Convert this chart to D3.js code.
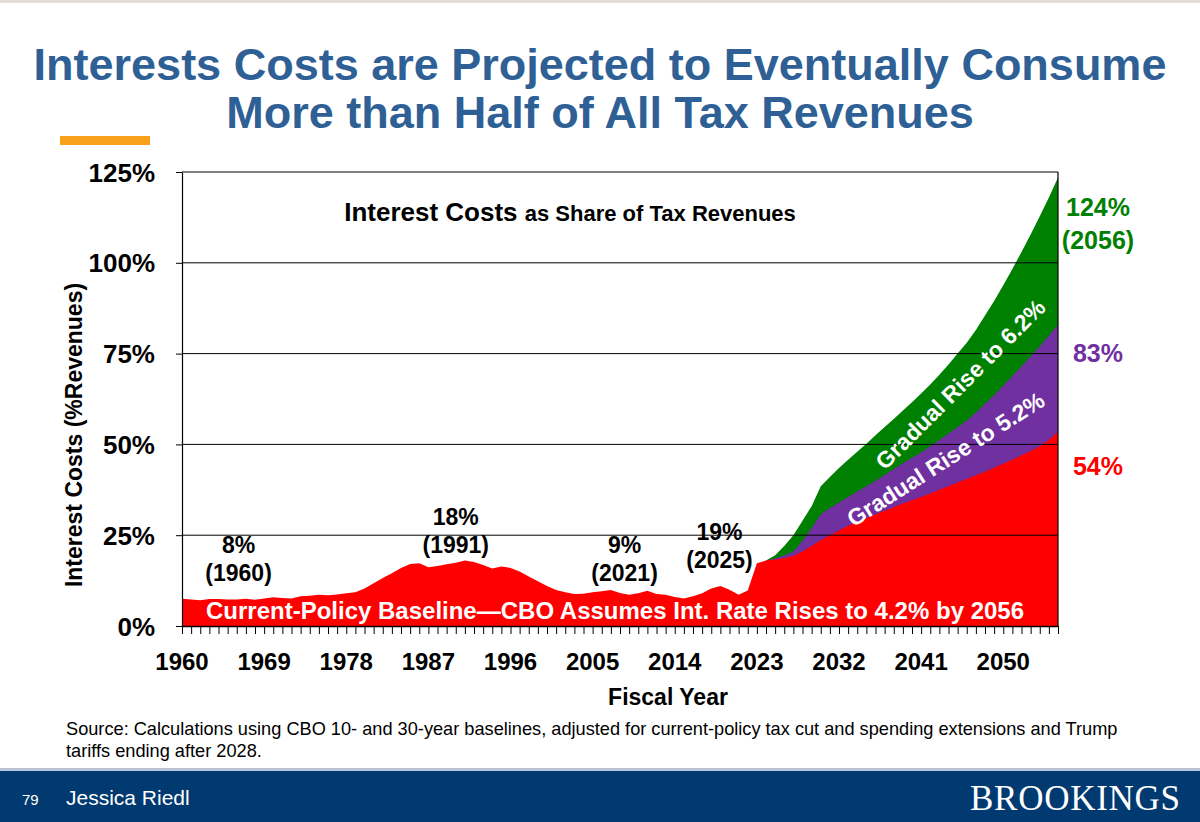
<!DOCTYPE html>
<html lang="en">
<head>
<meta charset="UTF-8">
<title>Interest Costs as Share of Tax Revenues</title>
<script src="https://d3js.org/d3.v7.min.js"></script>
<style>
  body { margin: 0; font-family: Arial, "Liberation Sans", sans-serif; background: #fff; }
</style>
</head>
<body>
<svg width="1200" height="822" font-family="Arial, 'Liberation Sans', sans-serif"></svg>
<script>
// current-policy baseline, 1960..2056
const baseline = [
  7.5, 7.3, 7.1, 7.4, 7.4, 7.3, 7.3, 7.5, 7.2, 7.6,
  7.9, 7.7, 7.6, 8.2, 8.3, 8.6, 8.5, 8.7, 9.0, 9.3,
  10.3, 11.8, 13.2, 14.5, 16.0, 17.1, 17.3, 16.2, 16.5, 17.0,
  17.4, 18.0, 17.6, 16.8, 15.8, 16.4, 16.0, 15.0, 13.6, 12.3,
  11.0, 9.9, 9.3, 8.8, 8.9, 9.3, 9.6, 9.9, 9.1, 8.6,
  9.0, 9.7, 8.8, 8.6, 8.0, 7.6, 8.2, 9.0, 10.3, 11.0,
  10.0, 8.6, 9.8, 17.3,
  18.0, 18.3, 18.7, 19.3, 20.5, 22.0, 23.6, 25.0, 26.3, 27.6,
  28.7, 29.7, 30.7, 31.7, 32.7, 33.7, 34.6, 35.5, 36.5, 37.5,
  38.5, 39.5, 40.5, 41.5, 42.5, 43.6, 44.7, 45.8, 47.0, 48.2,
  49.5, 51.2, 53.5
];
// totals for higher-rate scenarios, 2024..2056
const rise52 = [
  18.0, 18.6, 19.4, 20.5, 23.5, 27.0, 30.8, 32.5, 34.0, 35.5,
  37.0, 38.5, 40.0, 41.6, 43.2, 44.8, 46.3, 47.8, 49.5, 51.2,
  53.0, 54.8, 56.6, 58.8, 61.2, 63.6, 66.2, 68.8, 71.5, 74.2,
  77.0, 80.0, 83.0
];
const rise62 = [
  18.0, 19.5, 22.0, 25.0, 29.0, 33.0, 38.5, 41.0, 43.5, 45.8,
  48.0, 50.2, 52.5, 54.8, 57.0, 59.3, 61.6, 64.0, 66.5, 69.2,
  72.0, 75.0, 78.0, 81.5, 85.5, 89.5, 93.8, 98.3, 103.0, 107.8,
  112.8, 118.0, 123.5
];
const yTicks = [0, 25, 50, 75, 100, 125];
const xLabelYears = [1960, 1969, 1978, 1987, 1996, 2005, 2014, 2023, 2032, 2041, 2050];
const callouts = [
  { v: "8%", yr: "(1960)", x: 1966.2, y: 12.5 },
  { v: "18%", yr: "(1991)", x: 1990, y: 20 },
  { v: "9%", yr: "(2021)", x: 2008.5, y: 12.5 },
  { v: "19%", yr: "(2025)", x: 2018.9, y: 16 }
];

const svg = d3.select("svg");
const x = d3.scaleLinear().domain([1960, 2056]).range([182, 1058]);
const y = d3.scaleLinear().domain([0, 125]).range([626, 172]);

// page decoration
svg.append("rect").attr("x", 0).attr("y", 0).attr("width", 1200).attr("height", 3).attr("fill", "#e4dcd8");
svg.append("text").attr("x", 600).attr("y", 80).attr("text-anchor", "middle")
  .attr("font-size", 45).attr("font-weight", "bold").attr("fill", "#2e6096")
  .text("Interests Costs are Projected to Eventually Consume");
svg.append("text").attr("x", 600).attr("y", 128).attr("text-anchor", "middle")
  .attr("font-size", 45).attr("font-weight", "bold").attr("fill", "#2e6096")
  .text("More than Half of All Tax Revenues");
svg.append("rect").attr("x", 60).attr("y", 136).attr("width", 90).attr("height", 9).attr("fill", "#f9a11b");

// areas
const base = baseline.map((v, i) => ({ yr: 1960 + i, v }));
const area = d3.area().x(d => x(d.yr)).y0(y(0)).y1(d => y(d.v));
const fut = arr => arr.map((v, i) => ({ yr: 2024 + i, v }));
svg.append("path").datum(fut(rise62)).attr("d", area).attr("fill", "#008000");
svg.append("path").datum(fut(rise52)).attr("d", area).attr("fill", "#7030a0");
svg.append("path").datum(base).attr("d", area).attr("fill", "#ff0000");

// grid + frame
svg.append("g").selectAll("line").data(yTicks.slice(1, 5)).join("line")
  .attr("x1", x(1960)).attr("x2", x(2056)).attr("y1", d => y(d)).attr("y2", d => y(d))
  .attr("stroke", "#000").attr("stroke-width", 1);
svg.append("line").attr("x1", x(1960)).attr("x2", x(2056)).attr("y1", y(125)).attr("y2", y(125)).attr("stroke", "#000").attr("stroke-width", 1.2);
svg.append("line").attr("x1", x(2056)).attr("x2", x(2056)).attr("y1", y(125)).attr("y2", y(0)).attr("stroke", "#000").attr("stroke-width", 1.2);

const yAxis = svg.append("g").attr("transform", `translate(${x(1960)},0)`)
  .call(d3.axisLeft(y).tickValues(yTicks).tickFormat(d => d + "%").tickSize(6).tickSizeOuter(0));
yAxis.selectAll("text").attr("font-size", 26).attr("font-weight", "bold").attr("fill", "#000").attr("dx", -18).attr("dy", "0.35em")
  .attr("font-family", "Arial, 'Liberation Sans', sans-serif");
yAxis.select(".domain").attr("stroke", "#000").attr("stroke-width", 1.2);

const xAxis = svg.append("g").attr("transform", `translate(0,${y(0)})`)
  .call(d3.axisBottom(x).tickValues(d3.range(1960, 2057)).tickFormat("").tickSize(8).tickSizeOuter(0));
xAxis.select(".domain").attr("stroke", "#000").attr("stroke-width", 1.5);
xAxis.selectAll(".tick line").attr("stroke", "#000");
svg.append("g").selectAll("text").data(xLabelYears).join("text")
  .attr("x", d => x(d)).attr("y", 670).attr("text-anchor", "middle")
  .attr("font-size", 24).attr("font-weight", "bold").text(d => d);

// axis titles
svg.append("text").attr("x", 668).attr("y", 705).attr("text-anchor", "middle")
  .attr("font-size", 23).attr("font-weight", "bold").text("Fiscal Year");
svg.append("text").attr("transform", "translate(82,435) rotate(-90)").attr("text-anchor", "middle")
  .attr("font-size", 23).attr("font-weight", "bold").text("Interest Costs (%Revenues)");

// inner title
const it = svg.append("text").attr("x", 570).attr("y", 221).attr("text-anchor", "middle").attr("font-weight", "bold");
it.append("tspan").attr("font-size", 26).text("Interest Costs ");
it.append("tspan").attr("font-size", 22).text("as Share of Tax Revenues");

// callouts
callouts.forEach(c => {
  svg.append("text").attr("x", x(c.x)).attr("y", y(c.y) - 28).attr("text-anchor", "middle")
    .attr("font-size", 23).attr("font-weight", "bold").text(c.v);
  svg.append("text").attr("x", x(c.x)).attr("y", y(c.y)).attr("text-anchor", "middle")
    .attr("font-size", 23).attr("font-weight", "bold").text(c.yr);
});

svg.append("text").attr("x", 615).attr("y", 619).attr("text-anchor", "middle")
  .attr("font-size", 24).attr("font-weight", "bold").attr("fill", "#fff")
  .text("Current-Policy Baseline\u2014CBO Assumes Int. Rate Rises to 4.2% by 2056");

svg.append("text").attr("transform", "translate(966,390) rotate(-45)").attr("text-anchor", "middle")
  .attr("font-size", 23).attr("font-weight", "bold").attr("fill", "#fff").text("Gradual Rise to 6.2%");
svg.append("text").attr("transform", "translate(950,466) rotate(-32.5)").attr("text-anchor", "middle")
  .attr("font-size", 23).attr("font-weight", "bold").attr("fill", "#fff").text("Gradual Rise to 5.2%");

// end values
const endLabels = [
  { t: "124%", v: 115.4, c: "#008000" },
  { t: "(2056)", v: 106.3, c: "#008000" },
  { t: "83%", v: 75, c: "#7030a0" },
  { t: "54%", v: 44, c: "#ff0000" }
];
svg.append("g").selectAll("text").data(endLabels).join("text")
  .attr("x", 1098).attr("y", d => y(d.v)).attr("dy", "0.35em").attr("text-anchor", "middle")
  .attr("font-size", 25).attr("font-weight", "bold").attr("fill", d => d.c).text(d => d.t);

// source
svg.append("text").attr("x", 66).attr("y", 735).attr("font-size", 18.2)
  .text("Source: Calculations using CBO 10- and 30-year baselines, adjusted for current-policy tax cut and spending extensions and Trump");
svg.append("text").attr("x", 66).attr("y", 757).attr("font-size", 18.2).text("tariffs ending after 2028.");

// footer
svg.append("rect").attr("x", 0).attr("y", 768).attr("width", 1200).attr("height", 3).attr("fill", "#b8c4d6");
svg.append("rect").attr("x", 0).attr("y", 771).attr("width", 1200).attr("height", 51).attr("fill", "#003a70");
svg.append("text").attr("x", 22).attr("y", 805).attr("font-size", 15).attr("fill", "#fff").text("79");
svg.append("text").attr("x", 66).attr("y", 805).attr("font-size", 21).attr("fill", "#fff").text("Jessica Riedl");
svg.append("text").attr("x", 1180).attr("y", 810).attr("text-anchor", "end")
  .attr("font-family", "'Liberation Serif', 'DejaVu Serif', serif").attr("font-size", 35).attr("fill", "#fff")
  .attr("textLength", 210).text("BROOKINGS");
</script>
</body>
</html>
